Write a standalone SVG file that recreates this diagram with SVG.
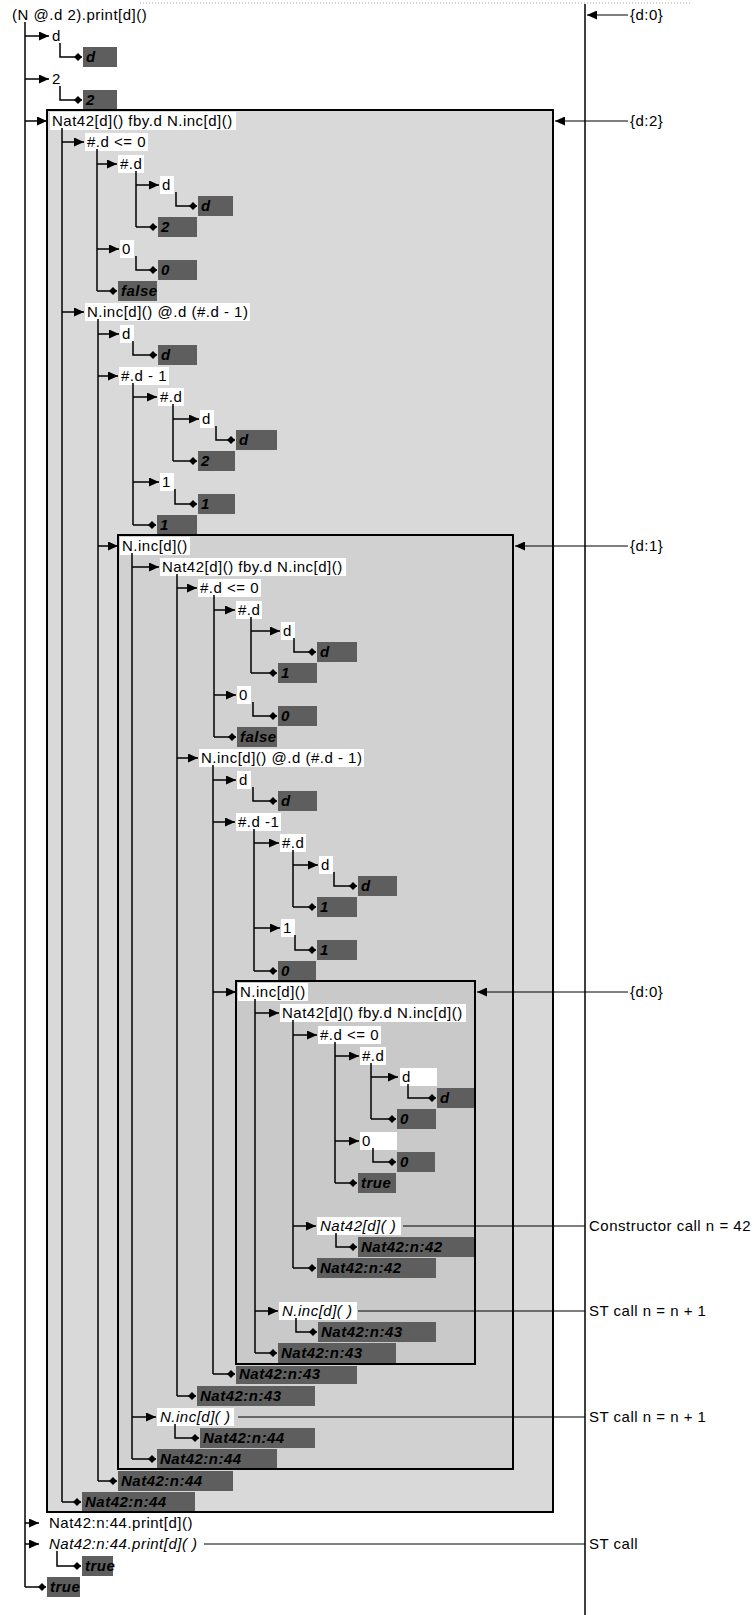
<svg xmlns="http://www.w3.org/2000/svg" width="756" height="1615" viewBox="0 0 756 1615">
<defs>
<style>
text{font-family:"Liberation Sans",Arial,sans-serif;font-size:15px;letter-spacing:0.5px;fill:#000}
.it{font-style:italic}
.rt{font-weight:bold;font-style:italic}
.rb{fill:#5e5e5e}
.bg{fill:#fff}
.f2{fill:#d9d9d9;stroke:#000;stroke-width:2}
.f1{fill:#d1d1d1;stroke:#000;stroke-width:2}
.f0{fill:#c9c9c9;stroke:#000;stroke-width:2}
#connectors path,#connectors line{fill:none;stroke:#000;stroke-width:1.5}
#connectors .thin{stroke-width:1}
.dots{stroke:#aaa;stroke-width:1;stroke-dasharray:1 2}
</style>
<marker id="arr" viewBox="0 0 10 9" refX="10" refY="4.5" markerWidth="10" markerHeight="9" markerUnits="userSpaceOnUse" orient="auto"><path d="M0,0 L10,4.5 L0,9 z" fill="#000"/></marker>
<marker id="dia" viewBox="0 0 8 8" refX="8" refY="4" markerWidth="8" markerHeight="8" markerUnits="userSpaceOnUse" orient="auto"><path d="M0,4 L4,0 L8,4 L4,8 z" fill="#000"/></marker>
</defs>
<rect x="0" y="0" width="756" height="1615" fill="#fff"/>
<line class="dots" x1="140" y1="3" x2="690" y2="3"/>

<g id="n0"><text x="12" y="20">(N @.d 2).print[d]()</text></g>
<g id="n1"><text x="52" y="41">d</text></g>
<g id="n2"><rect class="rb" x="83" y="47" width="34" height="20"/><text class="rt" x="86" y="62">d</text></g>
<g id="n3"><text x="52" y="84">2</text></g>
<g id="n4"><rect class="rb" x="83" y="90" width="34" height="19"/><text class="rt" x="86" y="105">2</text></g>

<g id="n5"><rect class="f2" x="47" y="110" width="506" height="1402"/><rect class="bg" x="50" y="112" width="186" height="18"/><text x="52" y="126">Nat42[d]() fby.d N.inc[d]()</text></g>
<g id="n25"><rect class="f1" x="118" y="535" width="395" height="934"/><rect class="bg" x="120" y="537" width="70" height="18"/><text x="122" y="551">N.inc[d]()</text></g>
<g id="n46"><rect class="f0" x="236" y="981" width="239" height="383"/><rect class="bg" x="238" y="983" width="70" height="18"/><text x="240" y="997">N.inc[d]()</text></g>

<g id="n6"><rect class="bg" x="85" y="133" width="63" height="18"/><text x="87" y="147">#.d &lt;= 0</text></g>
<g id="n7"><rect class="bg" x="118" y="155" width="26" height="18"/><text x="120" y="169">#.d</text></g>
<g id="n8"><rect class="bg" x="160" y="176" width="14" height="18"/><text x="162" y="190">d</text></g>
<g id="n9"><rect class="rb" x="198" y="196" width="35" height="20"/><text class="rt" x="201" y="211">d</text></g>
<g id="n10"><rect class="rb" x="158" y="217" width="39" height="20"/><text class="rt" x="161" y="232">2</text></g>
<g id="n11"><rect class="bg" x="120" y="240" width="14" height="18"/><text x="122" y="254">0</text></g>
<g id="n12"><rect class="rb" x="158" y="260" width="39" height="20"/><text class="rt" x="161" y="275">0</text></g>
<g id="n13"><rect class="rb" x="118" y="281" width="39" height="20"/><text class="rt" x="121" y="296">false</text></g>
<g id="n14"><rect class="bg" x="85" y="303" width="165" height="18"/><text x="87" y="317">N.inc[d]() @.d (#.d - 1)</text></g>
<g id="n15"><rect class="bg" x="120" y="325" width="14" height="18"/><text x="122" y="339">d</text></g>
<g id="n16"><rect class="rb" x="158" y="345" width="39" height="20"/><text class="rt" x="161" y="360">d</text></g>
<g id="n17"><rect class="bg" x="119" y="367" width="50" height="18"/><text x="121" y="381">#.d - 1</text></g>
<g id="n18"><rect class="bg" x="158" y="388" width="26" height="18"/><text x="160" y="402">#.d</text></g>
<g id="n19"><rect class="bg" x="200" y="410" width="14" height="18"/><text x="202" y="424">d</text></g>
<g id="n20"><rect class="rb" x="236" y="430" width="41" height="20"/><text class="rt" x="239" y="445">d</text></g>
<g id="n21"><rect class="rb" x="198" y="451" width="37" height="20"/><text class="rt" x="201" y="466">2</text></g>
<g id="n22"><rect class="bg" x="160" y="473" width="14" height="18"/><text x="162" y="487">1</text></g>
<g id="n23"><rect class="rb" x="198" y="494" width="37" height="20"/><text class="rt" x="201" y="509">1</text></g>
<g id="n24"><rect class="rb" x="157" y="515" width="40" height="19"/><text class="rt" x="160" y="530">1</text></g>

<g id="n26"><rect class="bg" x="160" y="558" width="186" height="18"/><text x="162" y="572">Nat42[d]() fby.d N.inc[d]()</text></g>
<g id="n27"><rect class="bg" x="198" y="579" width="63" height="18"/><text x="200" y="593">#.d &lt;= 0</text></g>
<g id="n28"><rect class="bg" x="236" y="601" width="26" height="18"/><text x="238" y="615">#.d</text></g>
<g id="n29"><rect class="bg" x="281" y="622" width="14" height="18"/><text x="283" y="636">d</text></g>
<g id="n30"><rect class="rb" x="317" y="642" width="40" height="20"/><text class="rt" x="320" y="657">d</text></g>
<g id="n31"><rect class="rb" x="278" y="663" width="39" height="20"/><text class="rt" x="281" y="678">1</text></g>
<g id="n32"><rect class="bg" x="237" y="686" width="14" height="18"/><text x="239" y="700">0</text></g>
<g id="n33"><rect class="rb" x="278" y="706" width="39" height="20"/><text class="rt" x="281" y="721">0</text></g>
<g id="n34"><rect class="rb" x="237" y="727" width="40" height="20"/><text class="rt" x="240" y="742">false</text></g>
<g id="n35"><rect class="bg" x="199" y="749" width="165" height="18"/><text x="201" y="763">N.inc[d]() @.d (#.d - 1)</text></g>
<g id="n36"><rect class="bg" x="237" y="771" width="14" height="18"/><text x="239" y="785">d</text></g>
<g id="n37"><rect class="rb" x="278" y="791" width="39" height="20"/><text class="rt" x="281" y="806">d</text></g>
<g id="n38"><rect class="bg" x="236" y="813" width="45" height="18"/><text x="238" y="827">#.d -1</text></g>
<g id="n39"><rect class="bg" x="280" y="834" width="26" height="18"/><text x="282" y="848">#.d</text></g>
<g id="n40"><rect class="bg" x="319" y="856" width="14" height="18"/><text x="321" y="870">d</text></g>
<g id="n41"><rect class="rb" x="358" y="876" width="39" height="20"/><text class="rt" x="361" y="891">d</text></g>
<g id="n42"><rect class="rb" x="317" y="897" width="40" height="20"/><text class="rt" x="320" y="912">1</text></g>
<g id="n43"><rect class="bg" x="281" y="919" width="14" height="18"/><text x="283" y="933">1</text></g>
<g id="n44"><rect class="rb" x="317" y="940" width="40" height="20"/><text class="rt" x="320" y="955">1</text></g>
<g id="n45"><rect class="rb" x="278" y="961" width="38" height="19"/><text class="rt" x="281" y="976">0</text></g>

<g id="n47"><rect class="bg" x="280" y="1004" width="186" height="18"/><text x="282" y="1018">Nat42[d]() fby.d N.inc[d]()</text></g>
<g id="n48"><rect class="bg" x="318" y="1026" width="63" height="18"/><text x="320" y="1040">#.d &lt;= 0</text></g>
<g id="n49"><rect class="bg" x="360" y="1047" width="26" height="18"/><text x="362" y="1061">#.d</text></g>
<g id="n50"><rect class="bg" x="400" y="1068" width="37" height="18"/><text x="402" y="1082">d</text></g>
<g id="n51"><rect class="rb" x="437" y="1088" width="37" height="20"/><text class="rt" x="440" y="1103">d</text></g>
<g id="n52"><rect class="rb" x="397" y="1109" width="39" height="20"/><text class="rt" x="400" y="1124">0</text></g>
<g id="n53"><rect class="bg" x="360" y="1132" width="37" height="18"/><text x="362" y="1146">0</text></g>
<g id="n54"><rect class="rb" x="397" y="1152" width="38" height="20"/><text class="rt" x="400" y="1167">0</text></g>
<g id="n55"><rect class="rb" x="358" y="1173" width="38" height="20"/><text class="rt" x="361" y="1188">true</text></g>
<g id="n56"><rect class="bg" x="317" y="1217" width="84" height="18"/><text class="it" x="320" y="1231">Nat42[d]( )</text></g>
<g id="n57"><rect class="rb" x="358" y="1237" width="116" height="20"/><text class="rt" x="361" y="1252">Nat42:n:42</text></g>
<g id="n58"><rect class="rb" x="317" y="1258" width="119" height="20"/><text class="rt" x="320" y="1273">Nat42:n:42</text></g>
<g id="n59"><rect class="bg" x="279" y="1302" width="78" height="18"/><text class="it" x="282" y="1316">N.inc[d]( )</text></g>
<g id="n60"><rect class="rb" x="318" y="1322" width="118" height="20"/><text class="rt" x="321" y="1337">Nat42:n:43</text></g>
<g id="n61"><rect class="rb" x="278" y="1343" width="118" height="20"/><text class="rt" x="281" y="1358">Nat42:n:43</text></g>
<g id="n62"><rect class="rb" x="236" y="1366" width="121" height="18"/><text class="rt" x="239" y="1379">Nat42:n:43</text></g>
<g id="n63"><rect class="rb" x="197" y="1386" width="118" height="20"/><text class="rt" x="200" y="1401">Nat42:n:43</text></g>
<g id="n64"><rect class="bg" x="157" y="1408" width="77" height="18"/><text class="it" x="160" y="1422">N.inc[d]( )</text></g>
<g id="n65"><rect class="rb" x="200" y="1428" width="115" height="20"/><text class="rt" x="203" y="1443">Nat42:n:44</text></g>
<g id="n66"><rect class="rb" x="157" y="1449" width="120" height="19"/><text class="rt" x="160" y="1464">Nat42:n:44</text></g>
<g id="n67"><rect class="rb" x="118" y="1471" width="115" height="20"/><text class="rt" x="121" y="1486">Nat42:n:44</text></g>
<g id="n68"><rect class="rb" x="82" y="1492" width="113" height="19"/><text class="rt" x="85" y="1507">Nat42:n:44</text></g>
<g id="n69"><text x="49" y="1528">Nat42:n:44.print[d]()</text></g>
<g id="n70"><text class="it" x="49" y="1549">Nat42:n:44.print[d]( )</text></g>
<g id="n71"><rect class="rb" x="82" y="1556" width="31" height="20"/><text class="rt" x="85" y="1571">true</text></g>
<g id="n72"><rect class="rb" x="47" y="1577" width="33" height="20"/><text class="rt" x="50" y="1592">true</text></g>

<g id="lab-d0a"><text x="630" y="20">{d:0}</text></g>
<g id="lab-d2"><text x="630" y="126">{d:2}</text></g>
<g id="lab-d1"><text x="630" y="551">{d:1}</text></g>
<g id="lab-d0b"><text x="630" y="997">{d:0}</text></g>
<g id="lab-c42"><text x="589" y="1231">Constructor call n = 42</text></g>
<g id="lab-st1"><text x="589" y="1316">ST call n = n + 1</text></g>
<g id="lab-st2"><text x="589" y="1422">ST call n = n + 1</text></g>
<g id="lab-st3"><text x="589" y="1549">ST call</text></g>

<g id="connectors">
<path d="M25,22 V1587"/>
<path d="M62,128 V1502"/>
<path d="M97,149 V291"/>
<path d="M136,171 V227"/>
<path d="M98,319 V1481"/>
<path d="M133,383 V525"/>
<path d="M173,404 V461"/>
<path d="M132,553 V1459"/>
<path d="M177,574 V1396"/>
<path d="M214,595 V737"/>
<path d="M251,617 V673"/>
<path d="M213,765 V1374"/>
<path d="M254,829 V971"/>
<path d="M293,850 V907"/>
<path d="M255,999 V1353"/>
<path d="M293,1020 V1268"/>
<path d="M335,1042 V1183"/>
<path d="M371,1063 V1119"/>

<line x1="25" y1="36" x2="49" y2="36" marker-end="url(#arr)"/>
<line x1="25" y1="79" x2="49" y2="79" marker-end="url(#arr)"/>
<line x1="25" y1="121" x2="47" y2="121" marker-end="url(#arr)"/>
<line x1="62" y1="142" x2="84" y2="142" marker-end="url(#arr)"/>
<line x1="97" y1="164" x2="117" y2="164" marker-end="url(#arr)"/>
<line x1="136" y1="185" x2="159" y2="185" marker-end="url(#arr)"/>
<line x1="97" y1="249" x2="119" y2="249" marker-end="url(#arr)"/>
<line x1="62" y1="312" x2="84" y2="312" marker-end="url(#arr)"/>
<line x1="98" y1="334" x2="119" y2="334" marker-end="url(#arr)"/>
<line x1="98" y1="376" x2="118" y2="376" marker-end="url(#arr)"/>
<line x1="133" y1="397" x2="157" y2="397" marker-end="url(#arr)"/>
<line x1="173" y1="419" x2="199" y2="419" marker-end="url(#arr)"/>
<line x1="133" y1="482" x2="159" y2="482" marker-end="url(#arr)"/>
<line x1="98" y1="546" x2="118" y2="546" marker-end="url(#arr)"/>
<line x1="132" y1="567" x2="159" y2="567" marker-end="url(#arr)"/>
<line x1="177" y1="588" x2="197" y2="588" marker-end="url(#arr)"/>
<line x1="214" y1="610" x2="235" y2="610" marker-end="url(#arr)"/>
<line x1="251" y1="631" x2="280" y2="631" marker-end="url(#arr)"/>
<line x1="214" y1="695" x2="236" y2="695" marker-end="url(#arr)"/>
<line x1="177" y1="758" x2="198" y2="758" marker-end="url(#arr)"/>
<line x1="213" y1="780" x2="236" y2="780" marker-end="url(#arr)"/>
<line x1="213" y1="822" x2="235" y2="822" marker-end="url(#arr)"/>
<line x1="254" y1="843" x2="279" y2="843" marker-end="url(#arr)"/>
<line x1="293" y1="865" x2="318" y2="865" marker-end="url(#arr)"/>
<line x1="254" y1="928" x2="280" y2="928" marker-end="url(#arr)"/>
<line x1="213" y1="992" x2="236" y2="992" marker-end="url(#arr)"/>
<line x1="255" y1="1013" x2="279" y2="1013" marker-end="url(#arr)"/>
<line x1="293" y1="1035" x2="317" y2="1035" marker-end="url(#arr)"/>
<line x1="335" y1="1056" x2="359" y2="1056" marker-end="url(#arr)"/>
<line x1="371" y1="1077" x2="398" y2="1077" marker-end="url(#arr)"/>
<line x1="335" y1="1141" x2="359" y2="1141" marker-end="url(#arr)"/>
<line x1="293" y1="1226" x2="316" y2="1226" marker-end="url(#arr)"/>
<line x1="255" y1="1311" x2="278" y2="1311" marker-end="url(#arr)"/>
<line x1="132" y1="1417" x2="156" y2="1417" marker-end="url(#arr)"/>
<line x1="25" y1="1523" x2="39" y2="1523" marker-end="url(#arr)"/>
<line x1="25" y1="1544" x2="39" y2="1544" marker-end="url(#arr)"/>

<path d="M60,43 V57 H82" marker-end="url(#dia)"/>
<path d="M60,86 V100 H82" marker-end="url(#dia)"/>
<path d="M176,192 V206 H197" marker-end="url(#dia)"/>
<path d="M136,256 V270 H157" marker-end="url(#dia)"/>
<path d="M133,341 V355 H157" marker-end="url(#dia)"/>
<path d="M216,426 V440 H235" marker-end="url(#dia)"/>
<path d="M175,489 V504 H197" marker-end="url(#dia)"/>
<path d="M294,638 V652 H316" marker-end="url(#dia)"/>
<path d="M253,702 V716 H277" marker-end="url(#dia)"/>
<path d="M253,787 V801 H277" marker-end="url(#dia)"/>
<path d="M334,872 V886 H357" marker-end="url(#dia)"/>
<path d="M295,935 V950 H316" marker-end="url(#dia)"/>
<path d="M408,1084 V1098 H436" marker-end="url(#dia)"/>
<path d="M373,1148 V1162 H396" marker-end="url(#dia)"/>
<path d="M336,1233 V1247 H357" marker-end="url(#dia)"/>
<path d="M296,1318 V1332 H317" marker-end="url(#dia)"/>
<path d="M175,1424 V1438 H199" marker-end="url(#dia)"/>
<path d="M57,1551 V1566 H81" marker-end="url(#dia)"/>

<line x1="136" y1="227" x2="157" y2="227" marker-end="url(#dia)"/>
<line x1="97" y1="291" x2="117" y2="291" marker-end="url(#dia)"/>
<line x1="173" y1="461" x2="197" y2="461" marker-end="url(#dia)"/>
<line x1="133" y1="525" x2="156" y2="525" marker-end="url(#dia)"/>
<line x1="251" y1="673" x2="277" y2="673" marker-end="url(#dia)"/>
<line x1="214" y1="737" x2="236" y2="737" marker-end="url(#dia)"/>
<line x1="293" y1="907" x2="316" y2="907" marker-end="url(#dia)"/>
<line x1="254" y1="971" x2="277" y2="971" marker-end="url(#dia)"/>
<line x1="371" y1="1119" x2="396" y2="1119" marker-end="url(#dia)"/>
<line x1="335" y1="1183" x2="357" y2="1183" marker-end="url(#dia)"/>
<line x1="293" y1="1268" x2="316" y2="1268" marker-end="url(#dia)"/>
<line x1="255" y1="1353" x2="277" y2="1353" marker-end="url(#dia)"/>
<line x1="213" y1="1374" x2="235" y2="1374" marker-end="url(#dia)"/>
<line x1="177" y1="1396" x2="196" y2="1396" marker-end="url(#dia)"/>
<line x1="132" y1="1459" x2="156" y2="1459" marker-end="url(#dia)"/>
<line x1="98" y1="1481" x2="117" y2="1481" marker-end="url(#dia)"/>
<line x1="62" y1="1502" x2="81" y2="1502" marker-end="url(#dia)"/>
<line x1="25" y1="1587" x2="46" y2="1587" marker-end="url(#dia)"/>

<path d="M585,4 V1615"/>
<line class="thin" x1="628" y1="15" x2="587" y2="15" marker-end="url(#arr)"/>
<line class="thin" x1="628" y1="121" x2="555" y2="121" marker-end="url(#arr)"/>
<line class="thin" x1="628" y1="546" x2="515" y2="546" marker-end="url(#arr)"/>
<line class="thin" x1="628" y1="992" x2="477" y2="992" marker-end="url(#arr)"/>
<line class="thin" x1="403" y1="1226" x2="585" y2="1226"/>
<line class="thin" x1="358" y1="1311" x2="585" y2="1311"/>
<line class="thin" x1="238" y1="1417" x2="585" y2="1417"/>
<line class="thin" x1="204" y1="1544" x2="585" y2="1544"/>
</g>
</svg>
